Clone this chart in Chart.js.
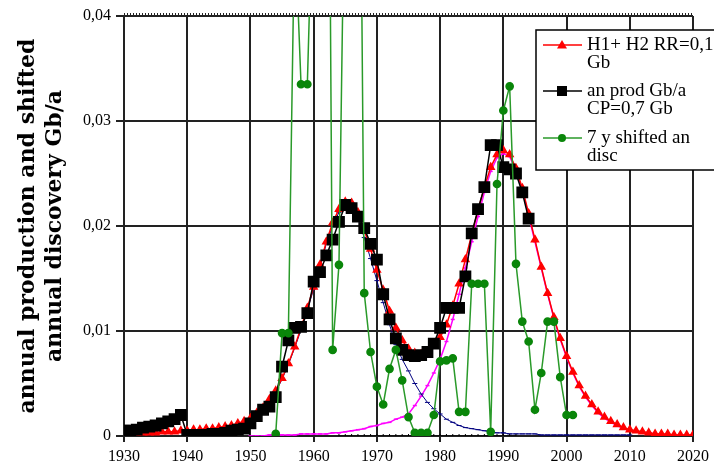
<!DOCTYPE html>
<html><head><meta charset="utf-8">
<script src="https://cdn.jsdelivr.net/npm/chart.js@4.4.1/dist/chart.umd.min.js"></script>
<style>html,body{margin:0;padding:0;background:#fff}#wrap{width:714px;height:470px}</style>
</head><body><div id="wrap"><canvas id="c" width="714" height="470"></canvas></div>
<script>
// ---- data (Gb/a) ----
const xTickLabels = ['1930','1940','1950','1960','1970','1980','1990','2000','2010','2020'];
const yTickLabels = ['0','0,01','0,02','0,03','0,04'];
const yTitle = ['annual production and shifted','annual discovery Gb/a'];
const legendLabels = [['H1+ H2 RR=0,1','Gb'],['an prod Gb/a','CP=0,7 Gb'],['7 y shifted an','disc']];

const sumStart = 1930; // H1+H2, yearly 1930-2020
const sumHubbert = [
 0.0002,0.0002,0.0003,0.0003,0.0003,0.0003,0.0004,0.0004,0.0004,0.0005,
 0.0005,0.0006,0.0006,0.0007,0.0007,0.0008,0.0009,0.0010,0.0012,0.0014,
 0.0017,0.0022,0.0027,0.0035,0.0043,0.0055,0.0069,0.0085,0.0103,0.0122,
 0.0142,0.0163,0.0185,0.0203,0.0216,0.0223,0.0222,0.0213,0.0196,0.0178,
 0.0158,0.0139,0.0119,0.0103,0.0091,0.0083,0.0079,0.0078,0.0080,0.0086,
 0.0094,0.0106,0.0124,0.0145,0.0168,0.0192,0.0215,0.0237,0.0256,0.0268,
 0.0272,0.0268,0.0255,0.0236,0.0212,0.0187,0.0161,0.0136,0.0113,0.0093,
 0.0076,0.0061,0.0048,0.0038,0.0030,0.0023,0.0018,0.0014,0.0011,0.0008,
 0.0006,0.0005,0.0004,0.0003,0.0002,0.0002,0.0002,0.0001,0.0001,0.0001,0.0001];

const prodStart = 1930; // annual production, 1930-1994
const production = [
 0.0005,0.0005,0.0006,0.0008,0.0009,0.0010,0.0012,0.0014,0.0016,0.0020,
 0.0001,0.0001,0.0001,0.0001,0.0002,0.0002,0.0003,0.0005,0.0006,0.0007,
 0.0012,0.0019,0.0025,0.0028,0.0037,0.0066,0.0091,0.0103,0.0104,0.0117,
 0.0147,0.0156,0.0172,0.0187,0.0204,0.0220,0.0217,0.0209,0.0198,0.0183,
 0.0168,0.0135,0.0111,0.0093,0.0082,0.0077,0.0076,0.0077,0.0080,0.0088,
 0.0103,0.0122,0.0122,0.0122,0.0152,0.0193,0.0216,0.0237,0.0277,0.0277,
 0.0256,0.0254,0.0250,0.0232,0.0207];

const discStart = 1954; // 7 y shifted annual discovery, 1954-2001
const discovery = [
 0.0002,0.0098,0.0098,0.0490,0.0335,0.0335,0.0550,0.0700,0.1000,0.0082,
 0.0163,0.0580,0.0750,0.0850,0.0136,0.0080,0.0047,0.0030,0.0064,0.0082,
 0.0053,0.0018,0.0003,0.0003,0.0003,0.0020,0.0071,0.0072,0.0074,0.0023,
 0.0023,0.0145,0.0145,0.0145,0.0004,0.0240,0.0310,0.0333,0.0164,0.0109,
 0.0090,0.0025,0.0060,0.0109,0.0109,0.0056,0.0020,0.0020];

const h1Start = 1930; // first Hubbert curve, 1930-2010
const hubbert1 = [
 0.0002,0.0002,0.0003,0.0003,0.0003,0.0003,0.0004,0.0004,0.0004,0.0005,
 0.0005,0.0006,0.0006,0.0007,0.0007,0.0008,0.0009,0.0010,0.0012,0.0014,
 0.0017,0.0022,0.0027,0.0034,0.0042,0.0054,0.0068,0.0084,0.0101,0.0120,
 0.0140,0.0161,0.0183,0.0200,0.0213,0.0219,0.0217,0.0207,0.0189,0.0169,
 0.0148,0.0127,0.0106,0.0087,0.0073,0.0062,0.0050,0.0040,0.0032,0.0026,
 0.0021,0.0016,0.0013,0.0010,0.0008,0.0007,0.0006,0.0005,0.0004,0.0003,
 0.0003,0.0002,0.0002,0.0002,0.0002,0.0002,0.0001,0.0001,0.0001,0.0001,
 0.0001,0.0001,0.0001,0.0001,0.0001,0.0001,0.0001,0.0001,0.0001,0.0001,0.0001];

const h2Start = 1950; // second Hubbert curve, 1950-2020
const hubbert2 = [
 0.0000,0.0000,0.0000,0.0001,0.0001,0.0001,0.0001,0.0001,0.0002,0.0002,
 0.0002,0.0002,0.0002,0.0003,0.0003,0.0004,0.0005,0.0006,0.0007,0.0009,
 0.0010,0.0012,0.0013,0.0016,0.0018,0.0021,0.0029,0.0038,0.0048,0.0060,
 0.0073,0.0090,0.0111,0.0135,0.0160,0.0185,0.0209,0.0232,0.0252,0.0265,
 0.0269,0.0266,0.0253,0.0234,0.0210,0.0185,0.0160,0.0135,0.0112,0.0092,
 0.0075,0.0060,0.0047,0.0037,0.0029,0.0022,0.0017,0.0013,0.0010,0.0007,
 0.0005,0.0004,0.0003,0.0003,0.0002,0.0002,0.0001,0.0001,0.0001,0.0001,0.0001];

const baseStart = 1964; // black dotted base line, 1964-1992
const baseLine = [0,0,0,0,0,0,0,0,0,0,0,0,0,0,0,0,0,0,0,0,0,0,0,0,0,0,0,0,0];

const pts = (start, arr) => arr.map((v, i) => ({x: start + i, y: v}));

Chart.defaults.font.family = 'Liberation Serif';
Chart.defaults.color = '#000';

const legendPlugin = {
  id: 'boxLegend',
  afterDraw(chart) {
    const ctx = chart.ctx;
    ctx.save();
    // top border with dotted tick band
    const a = chart.chartArea;
    ctx.strokeStyle = '#222';
    ctx.lineWidth = 4;
    ctx.setLineDash([1, 2]);
    ctx.beginPath(); ctx.moveTo(a.left, a.top - 1); ctx.lineTo(a.right, a.top - 1); ctx.stroke();
    ctx.setLineDash([]);
    // legend box
    const bx = 536, by = 30, bw = 182, bh = 140;
    ctx.fillStyle = '#fff';
    ctx.fillRect(bx, by, bw, bh);
    ctx.strokeStyle = '#000'; ctx.lineWidth = 1.5;
    ctx.strokeRect(bx, by, bw, bh);
    const rows = [45, 91, 138];
    const ds = chart.data.datasets;
    rows.forEach((y, i) => {
      const d = ds[i];
      ctx.strokeStyle = d.borderColor; ctx.lineWidth = 1.5;
      ctx.beginPath(); ctx.moveTo(543, y); ctx.lineTo(582, y); ctx.stroke();
      ctx.fillStyle = d.pointBackgroundColor;
      const cx = 562;
      ctx.beginPath();
      if (d.pointStyle === 'triangle') { ctx.moveTo(cx, y - 5); ctx.lineTo(cx + 5, y + 3.5); ctx.lineTo(cx - 5, y + 3.5); ctx.closePath(); }
      else if (d.pointStyle === 'rect') { ctx.rect(cx - 5, y - 5, 10, 10); }
      else { ctx.arc(cx, y, 4, 0, Math.PI * 2); }
      ctx.fill();
      ctx.fillStyle = '#000';
      ctx.font = '19px "Liberation Serif"';
      ctx.textBaseline = 'middle';
      ctx.textAlign = 'left';
      legendLabels[i].forEach((t, j) => ctx.fillText(t, 587, y + j * 18.5));
    });
    ctx.restore();
  }
};

new Chart(document.getElementById('c'), {
  type: 'line',
  data: {
    datasets: [
      { label: legendLabels[0].join(' '), data: pts(sumStart, sumHubbert), borderColor: '#ff0000', backgroundColor: '#ff0000',
        pointBackgroundColor: '#ff0000', pointBorderColor: '#ff0000', pointStyle: 'triangle', pointRadius: 4, borderWidth: 1.5, order: 2 },
      { label: legendLabels[1].join(' '), data: pts(prodStart, production), borderColor: '#000', backgroundColor: '#000',
        pointBackgroundColor: '#000', pointBorderColor: '#000', pointStyle: 'rect', pointRadius: 7.3, borderWidth: 1.5, order: 1 },
      { label: legendLabels[2].join(' '), data: pts(discStart, discovery), borderColor: '#2a9a2a', backgroundColor: '#0a860a',
        pointBackgroundColor: '#0a860a', pointBorderColor: '#0a860a', pointStyle: 'circle', pointRadius: 3.6, borderWidth: 1.5, order: 0 },
      { label: 'H1', data: pts(h1Start, hubbert1), borderColor: '#000080', pointBackgroundColor: '#000080', pointBorderColor: '#000080',
        pointStyle: 'line', pointRadius: 2.5, borderWidth: 1, order: 3 },
      { label: 'H2', data: pts(h2Start, hubbert2), borderColor: '#ff00ff', pointBackgroundColor: '#ff00ff', pointBorderColor: '#ff00ff',
        pointStyle: 'line', pointRadius: 2, borderWidth: 1.5, order: 3 },
      { label: 'base', data: pts(baseStart, baseLine), borderColor: '#000', pointBorderColor: '#000',
        pointStyle: 'line', pointRotation: 90, pointRadius: 2, borderWidth: 1, order: 2 }
    ]
  },
  options: {
    responsive: false,
    animation: false,
    devicePixelRatio: 1,
    layout: { padding: { top: 16, right: 21, left: 0, bottom: 0 } },
    plugins: { legend: { display: false }, tooltip: { enabled: false } },
    elements: { line: { tension: 0 } },
    scales: {
      x: {
        type: 'linear', min: 1930, max: 2020,
        ticks: { stepSize: 10, maxRotation: 0, padding: 5, font: { size: 16 }, color: '#000',
                 callback: (v) => xTickLabels[Math.round((v - 1930) / 10)] },
        grid: { color: '#222', lineWidth: 2, tickLength: 6 },
        border: { color: '#222', width: 2 },
        afterFit: (s) => { s.height = 34; }
      },
      y: {
        min: 0, max: 0.04,
        ticks: { stepSize: 0.01, padding: 5, font: { size: 16 }, color: '#000',
                 callback: (v) => yTickLabels[Math.round(v * 100)] },
        grid: { color: '#222', lineWidth: 2, tickLength: 8 },
        border: { color: '#222', width: 2 },
        title: { display: true, text: yTitle, color: '#000', padding: { top: 15, bottom: 0 },
                 font: { family: 'DejaVu Serif', weight: 'bold', size: 22, lineHeight: 27 / 22 } },
        afterFit: (s) => { s.width = 124; }
      }
    }
  },
  plugins: [legendPlugin]
});
</script></body></html>
